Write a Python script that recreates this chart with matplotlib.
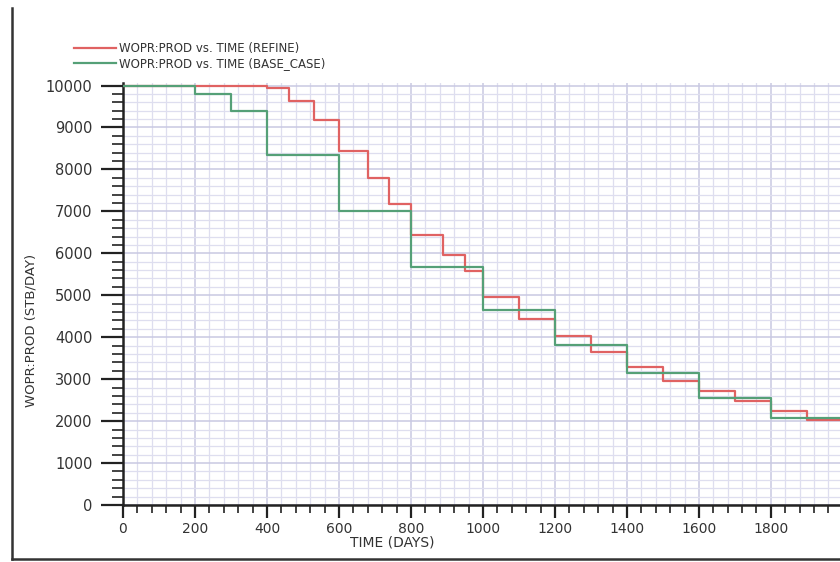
import numpy as np
import matplotlib
matplotlib.use("Agg")
import matplotlib.pyplot as plt
from matplotlib.lines import Line2D
from matplotlib.ticker import MultipleLocator, FixedLocator

plt.rcParams['font.family'] = ['DejaVu Sans']

# data (step starts, days / STB per day)
refine_days = [0, 350, 400, 460, 530, 600, 680, 740, 800, 890, 950, 1000,
               1100, 1200, 1300, 1400, 1500, 1600, 1700, 1800, 1900, 2000]
refine_rate = [10000, 9980, 9930, 9630, 9180, 8440, 7800, 7165, 6430, 5970, 5570, 4950,
               4440, 4020, 3640, 3300, 2960, 2720, 2490, 2230, 2020, 2020]

base_days = [0, 200, 300, 400, 600, 800, 1000, 1200, 1400, 1600, 1800, 2000]
base_rate = [10000, 9790, 9400, 8340, 7000, 5670, 4640, 3820, 3140, 2550, 2070, 2070]

x_ticks = [0, 200, 400, 600, 800, 1000, 1200, 1400, 1600, 1800]
y_ticks = [0, 1000, 2000, 3000, 4000, 5000, 6000, 7000, 8000, 9000, 10000]

red = '#e06262'
green = '#55a077'
txt = '#333333'

fig = plt.figure(figsize=(8.4, 5.62), dpi=100)
ax = fig.add_axes([0.1464, 0.1014, 0.8536, 0.7509])

ax.step(refine_days, refine_rate, where='post', color=red, lw=1.6,
        label='WOPR:PROD vs. TIME (REFINE)', zorder=3)
ax.step(base_days, base_rate, where='post', color=green, lw=1.6,
        label='WOPR:PROD vs. TIME (BASE_CASE)', zorder=4)

ax.set_xlim(0, 1992)
ax.set_ylim(0, 10060)

ax.xaxis.set_major_locator(FixedLocator(x_ticks))
ax.xaxis.set_minor_locator(MultipleLocator(40))
ax.yaxis.set_major_locator(FixedLocator(y_ticks))
ax.yaxis.set_minor_locator(MultipleLocator(200))
ax.set_xticklabels([str(v) for v in x_ticks])
ax.set_yticklabels([str(v) for v in y_ticks])

ax.grid(True, which='major', color='#c9c9e2', lw=1.1)
ax.grid(True, which='minor', color='#dedeef', lw=0.9)
ax.set_axisbelow(True)

for s in ['top', 'right']:
    ax.spines[s].set_visible(False)
for s in ['left', 'bottom']:
    ax.spines[s].set_color('#222222')
    ax.spines[s].set_linewidth(1.8)

ax.tick_params(axis='y', which='major', direction='out', length=16, width=1.6,
               color='#222222', labelsize=10.5, labelcolor=txt, pad=6)
ax.tick_params(axis='y', which='minor', direction='out', length=8, width=1.2, color='#222222')
ax.tick_params(axis='x', which='major', direction='out', length=9, width=1.6,
               color='#222222', labelsize=10, labelcolor=txt, pad=3)
ax.tick_params(axis='x', which='minor', direction='out', length=6, width=1.2, color='#222222')

fig.text(392 / 840, 1 - 543 / 562, 'TIME (DAYS)', ha='center', va='center',
         fontsize=10, color=txt)
fig.text(31 / 840, 1 - 330 / 562, 'WOPR:PROD (STB/DAY)', ha='center', va='center',
         rotation=90, fontsize=9.5, color=txt)

fig.legend(loc='upper left', bbox_to_anchor=(68 / 840, 1 - 36 / 562), frameon=False,
           fontsize=8.5, handlelength=3.6, handletextpad=0.2, labelspacing=0.15,
           borderpad=0, labelcolor=txt)

# scanned page border
fig.add_artist(Line2D([12 / 840, 12 / 840], [1 - 8 / 562, 1 - 559 / 562],
                      transform=fig.transFigure, color='#333333', lw=1.8))
fig.add_artist(Line2D([12 / 840, 1.0], [1 - 559 / 562, 1 - 559 / 562],
                      transform=fig.transFigure, color='#333333', lw=1.8))

fig.savefig('out.png', dpi=100)
